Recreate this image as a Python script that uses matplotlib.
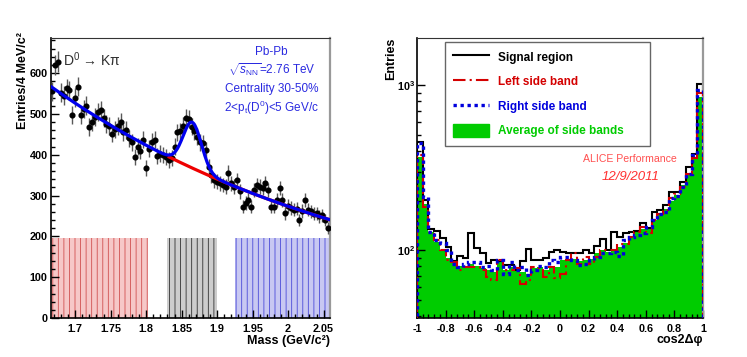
import numpy as np
import matplotlib as mpl
import matplotlib.pyplot as plt
from matplotlib.lines import Line2D
from matplotlib.patches import Patch
from matplotlib.ticker import MultipleLocator, LogLocator, NullFormatter, FixedLocator

plt.rcParams['font.family'] = ['Liberation Sans', 'DejaVu Sans']
plt.rcParams['mathtext.fontset'] = 'custom'
plt.rcParams['mathtext.rm'] = 'Liberation Sans'
plt.rcParams['mathtext.it'] = 'Liberation Sans:italic'
plt.rcParams['mathtext.bf'] = 'Liberation Sans:bold'
plt.rcParams['hatch.linewidth'] = 0.6


##
## Left panel: D0 -> K pi invariant mass
##
mass_lo, mass_bin = 1.666, 0.004
counts = [
    555, 620, 628, 552, 545, 563, 558, 497, 540, 567,
    497, 512, 520, 468, 481, 493, 505, 510, 490, 475,
    470, 452, 462, 470, 481, 455, 460, 440, 430, 395,
    420, 410, 437, 367, 415, 432, 437, 396, 403, 400,
    395, 388, 391, 420, 455, 457, 470, 490, 488, 469,
    457, 444, 430, 428, 412, 370, 350, 338, 334, 330,
    326, 322, 355, 330, 322, 338, 310, 273, 281, 289,
    273, 314, 326, 322, 318, 330, 314, 273, 273, 290,
    318, 289, 257, 275, 270, 265, 268, 240, 262, 289,
    265, 261, 255, 257, 249, 252, 240, 220,
]
# fit: exponential background + gaussian
bkg_norm, bkg_slope, bkg_ref = 562., 2.18, 1.67
sig_amp, sig_mean, sig_sigma = 112., 1.865, 0.013
# side band / signal regions (GeV/c2)
left_band = (1.666, 1.802)
signal_band = (1.829, 1.900)
right_band = (1.925, 2.060)
band_height = 195

xticks_mass = [1.7, 1.75, 1.8, 1.85, 1.9, 1.95, 2.0, 2.05]
xlabels_mass = ['1.7', '1.75', '1.8', '1.85', '1.9', '1.95', '2', '2.05']


##
## Right panel: cos(2 dphi) distributions, 50 bins in [-1, 1]
##
cos_edges = np.linspace(-1, 1, 51)
signal_region = [
    450, 201, 135, 131, 119, 105, 86, 92, 90, 127,
    104, 96, 84, 88, 86, 82, 82, 76, 86, 102,
    88, 88, 90, 98, 100, 98, 96, 96, 96, 101,
    96, 107, 118, 100, 129, 120, 127, 129, 132, 146,
    136, 171, 175, 188, 225, 225, 259, 320, 385, 1010,
]
left_side = [
    377, 182, 129, 115, 100, 88, 85, 76, 79, 79,
    79, 76, 69, 66, 87, 76, 76, 78, 63, 66,
    79, 78, 69, 79, 68, 72, 87, 96, 83, 91,
    83, 91, 100, 100, 100, 110, 110, 120, 129, 138,
    127, 152, 167, 175, 207, 221, 242, 292, 361, 900,
]
right_side = [
    445, 210, 130, 115, 111, 100, 83, 79, 83, 85,
    85, 79, 81, 76, 87, 72, 85, 76, 79, 71,
    76, 81, 79, 87, 85, 91, 91, 87, 82, 83,
    87, 91, 96, 96, 98, 93, 115, 120, 124, 127,
    138, 152, 167, 171, 207, 214, 242, 292, 377, 940,
]
avg_side = [
    370, 190, 129, 112, 100, 90, 84, 81, 81, 83,
    81, 78, 76, 74, 85, 76, 79, 78, 74, 72,
    78, 79, 76, 81, 79, 87, 87, 89, 86, 87,
    89, 96, 100, 98, 102, 105, 111, 120, 129, 134,
    138, 152, 167, 178, 200, 217, 250, 292, 361, 850,
]
xticks_cos = [-1, -0.8, -0.6, -0.4, -0.2, 0, 0.2, 0.4, 0.6, 0.8, 1]
xlabels_cos = ['-1', '-0.8', '-0.6', '-0.4', '-0.2', '0', '0.2', '0.4', '0.6', '0.8', '1']


c_red = '#d40000'
c_blue = '#0000dd'
c_green = '#00cc00'
c_txtblue = '#2a2ae0'

fig = plt.figure(figsize=(7.47, 3.57), dpi=100)
ax1 = fig.add_axes([51/747, 39/357, 279/747, 280/357])
ax2 = fig.add_axes([417/747, 39/357, 286/747, 280/357])


def root_frame(ax):
    for side in ('left', 'bottom'):
        ax.spines[side].set_linewidth(1.2)
        ax.spines[side].set_color('k')
    ax.spines['top'].set_linewidth(0.8)
    ax.spines['top'].set_color('0.2')
    ax.spines['right'].set_linewidth(1.6)
    ax.spines['right'].set_color('0.6')
    ax.tick_params(which='both', direction='in', top=False, right=False, width=1.0)
    ax.tick_params(which='major', length=6)
    ax.tick_params(which='minor', length=3)
    ax.tick_params(axis='both', labelsize=7.8)
    for lab in ax.get_xticklabels() + ax.get_yticklabels():
        lab.set_fontweight('bold')


##
## left panel
##
counts = np.asarray(counts, dtype=float)
centres = mass_lo + mass_bin * (np.arange(counts.size) + 0.5)

for (lo, hi), fc, hc in [(left_band, '#f6c8c8', '#d05050'),
                         (signal_band, '#cdcdcd', '#303030'),
                         (right_band, '#c8c8f2', '#4a4ad8')]:
    ax1.bar((lo + hi) / 2, band_height, width=hi - lo, color=fc, hatch='|||',
            edgecolor=hc, linewidth=0, zorder=1)

ax1.errorbar(centres, counts, yerr=np.sqrt(counts), fmt='o', color='k', ms=3.4,
             ecolor='0.35', elinewidth=1.0, capsize=0, zorder=3)

xf = np.linspace(1.667, 2.06, 400)
bkg = bkg_norm * np.exp(-bkg_slope * (xf - bkg_ref))
tot = bkg + sig_amp * np.exp(-0.5 * ((xf - sig_mean) / sig_sigma) ** 2)
sel = xf > 1.83
ax1.plot(xf[sel], bkg[sel], color='#ee0000', lw=2.3, zorder=4, solid_capstyle='butt')
ax1.plot(xf, tot, color='#0000ee', lw=2.3, zorder=5)

ax1.set_xlim(1.666, 2.059)
ax1.set_ylim(0, 686)
ax1.set_xticks(xticks_mass, xlabels_mass)
ax1.xaxis.set_minor_locator(MultipleLocator(0.01))
ax1.yaxis.set_major_locator(MultipleLocator(100))
ax1.yaxis.set_minor_locator(MultipleLocator(20))
root_frame(ax1)
ax1.tick_params(axis='y', pad=2.5)
ax1.tick_params(axis='x', pad=4)

ax1.set_ylabel('Entries/4 MeV/c²', fontsize=9, fontweight='bold', loc='top')
ax1.yaxis.set_label_coords(-0.078, 1.02)
ax1.set_xlabel('Mass (GeV/c²)', fontsize=9, fontweight='bold', loc='right')
ax1.xaxis.set_label_coords(1.0, -0.062)

ax1.text(0.043, 0.921, 'D$^{0}$ → Kπ', transform=ax1.transAxes, fontsize=10,
         color='#303030', ha='left', va='center')
for yy, txt in [(0.951, 'Pb-Pb'),
                (0.886, r'$\sqrt{s_{\rm NN}}$=2.76 TeV'),
                (0.817, 'Centrality 30-50%'),
                (0.749, r'2<p$_{\rm t}$(D$^{0}$)<5 GeV/c')]:
    ax1.text(0.791, yy, txt, transform=ax1.transAxes, fontsize=8.5, color=c_txtblue,
             ha='center', va='center')


##
## right panel
##
ax2.stairs(avg_side, cos_edges, baseline=10, fill=True, color=c_green, lw=0, zorder=1)
ax2.stairs(signal_region, cos_edges, baseline=10, color='k', lw=1.5, zorder=2)
ax2.stairs(left_side, cos_edges, baseline=10, color=c_red, lw=1.5, ls=(0, (6, 2, 1, 2)), zorder=3)
ax2.stairs(right_side, cos_edges, baseline=10, color=c_blue, lw=2.4, ls=(0, (1, 1.1)), zorder=4)

ax2.set_yscale('log')
ax2.set_xlim(-1, 1)
ax2.set_ylim(39, 1930)
ax2.set_xticks(xticks_cos, xlabels_cos)
ax2.xaxis.set_minor_locator(MultipleLocator(0.04))
ax2.yaxis.set_major_locator(FixedLocator([100, 1000]))
ax2.set_yticklabels([r'$\mathbf{10^{2}}$', r'$\mathbf{10^{3}}$'])
ax2.yaxis.set_minor_locator(LogLocator(base=10, subs=np.arange(2, 10)))
ax2.yaxis.set_minor_formatter(NullFormatter())
root_frame(ax2)
ax2.tick_params(axis='y', pad=1.5)
ax2.tick_params(axis='x', pad=4)

ax2.set_ylabel('Entries', fontsize=9, fontweight='bold', loc='top')
ax2.yaxis.set_label_coords(-0.07, 1.0)
ax2.set_xlabel('cos2Δφ', fontsize=9, fontweight='bold', loc='right')
ax2.xaxis.set_label_coords(1.0, -0.058)

handles = [
    Line2D([], [], color='k', lw=1.5),
    Line2D([], [], color=c_red, lw=1.5, ls=(0, (6, 2, 1, 2))),
    Line2D([], [], color=c_blue, lw=2.4, ls=(0, (1, 1.1))),
    Patch(facecolor=c_green, edgecolor=c_green),
]
labels = ['Signal region', 'Left side band', 'Right side band', 'Average of side bands']
leg = ax2.legend(handles, labels, loc='upper left', bbox_to_anchor=(0.098, 0.6, 0.717, 0.386),
                 mode='expand', frameon=True, fancybox=False, edgecolor='0.25',
                 prop=dict(weight='bold', size=8.5), handlelength=3.0, handleheight=1.3,
                 labelspacing=0.95, borderpad=0.7, handletextpad=0.8, borderaxespad=0)
leg.get_frame().set_linewidth(1.0)
for t, c in zip(leg.get_texts(), ['k', c_red, c_blue, c_green]):
    t.set_color(c)

ax2.text(0.745, 0.568, 'ALICE Performance', transform=ax2.transAxes, fontsize=7.6,
         color='#ff5050', ha='center', va='center')
ax2.text(0.748, 0.504, '12/9/2011', transform=ax2.transAxes, fontsize=9.5,
         color='#ff3030', style='italic', ha='center', va='center')

fig.savefig('out.png', dpi=100)
